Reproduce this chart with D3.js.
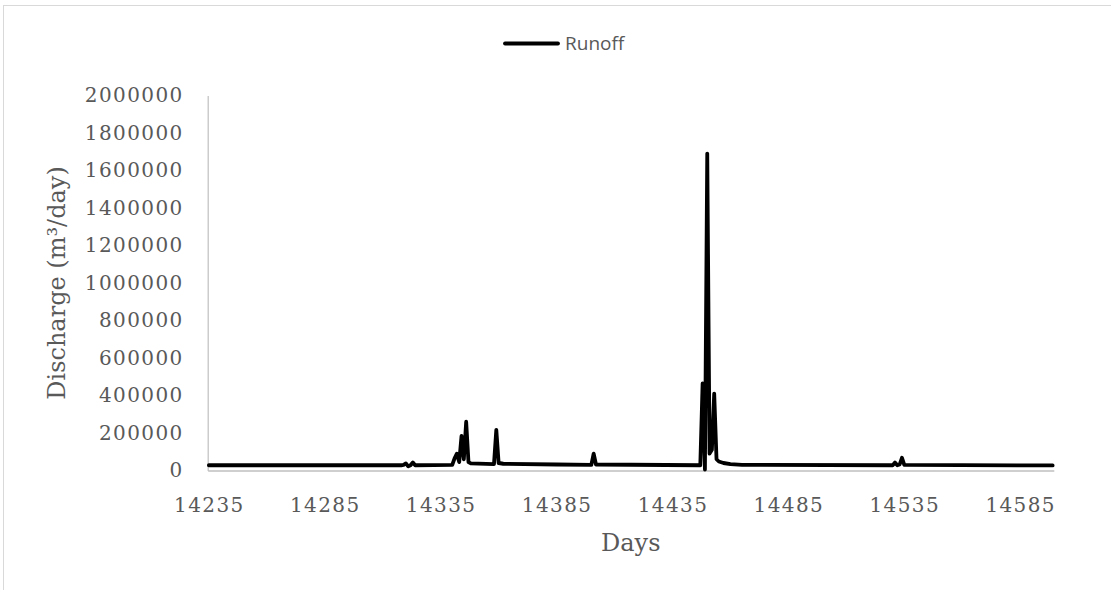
<!DOCTYPE html>
<html>
<head>
<meta charset="utf-8">
<script src="https://cdn.jsdelivr.net/npm/d3@7"></script>
<style>
    body { margin: 0; background: #fff; }
    .tick text { font-family: "DejaVu Serif", serif; font-size: 20px; fill: #595959; letter-spacing: 1.4px; }
</style>
</head>
<body>
<script>
// key points (days between points sit on the straight line)
var days = [14235, 14318, 14319, 14320, 14321, 14322, 14323, 14324, 14340, 14341, 14342, 14343,
    14344, 14345, 14346, 14347, 14348, 14358, 14359, 14360, 14362, 14385, 14400, 14401, 14402,
    14447, 14448, 14449, 14450, 14451, 14452, 14453, 14454, 14455, 14457, 14460, 14465, 14530,
    14531, 14532, 14533, 14534, 14535, 14599];
var runoff = [28000, 28000, 30000, 38000, 22000, 28000, 43000, 28000, 30000, 65000, 90000, 45000,
    184000, 60000, 260000, 45000, 38000, 34000, 216000, 40000, 36000, 32000, 30000, 90000, 32000,
    28000, 464000, 5000, 1690000, 90000, 110000, 410000, 60000, 48000, 40000, 34000, 30000, 28000,
    42000, 28000, 32000, 68000, 30000, 27000];
var xTicks = [14235, 14285, 14335, 14385, 14435, 14485, 14535, 14585];
var yTicks = [0, 200000, 400000, 600000, 800000, 1000000, 1200000, 1400000, 1600000, 1800000, 2000000];
var seriesName = "Runoff";

var width = 1111,
    height = 590;

var svg = d3.select("body")
    .append("svg")
    .attr("width", width)
    .attr("height", height);

// chart frame
svg.append("rect")
    .attr("x", 3.5)
    .attr("y", 5.5)
    .attr("width", 1120)
    .attr("height", 600)
    .style("fill", "none")
    .style("stroke", "#d9d9d9")
    .style("stroke-width", 1);

var x = d3.scaleLinear()
    .domain([14234.5, 14599.5])
    .range([207.7, 1053.8]);

var y = d3.scaleLinear()
    .domain([0, 2000000])
    .range([470.5, 95.5]);

var xAxis = svg.append("g")
    .attr("transform", "translate(0," + y(0) + ")")
    .call(d3.axisBottom(x).tickValues(xTicks).tickSize(0).tickFormat(d3.format("d")));
xAxis.select(".domain").style("stroke", "#bfbfbf").style("stroke-width", 1.5);
xAxis.selectAll(".tick text").attr("y", 34).attr("dy", "0.35em");

var yAxis = svg.append("g")
    .attr("transform", "translate(" + x.range()[0] + ",0)")
    .call(d3.axisLeft(y).tickValues(yTicks).tickSize(0).tickPadding(24).tickFormat(d3.format("d")));
yAxis.select(".domain").style("stroke", "#bfbfbf").style("stroke-width", 1.2);

var points = days.map(function (d, i) { return [d, runoff[i]]; });

var line = d3.line()
    .x(function (d) { return x(d[0]); })
    .y(function (d) { return y(d[1]); });

svg.append("path")
    .datum(points)
    .attr("d", line)
    .style("fill", "none")
    .style("stroke", "#000")
    .style("stroke-width", 3.8)
    .style("stroke-linejoin", "round")
    .style("stroke-linecap", "round");

// axis titles
svg.append("text")
    .attr("x", (x.range()[0] + x.range()[1]) / 2)
    .attr("y", 551)
    .attr("text-anchor", "middle")
    .style("font-family", "DejaVu Serif, serif")
    .style("font-size", "24px")
    .style("fill", "#595959")
    .text("Days");

svg.append("text")
    .attr("transform", "translate(65," + (y.range()[0] + y.range()[1]) / 2 + ") rotate(-90)")
    .attr("text-anchor", "middle")
    .style("font-family", "DejaVu Serif, serif")
    .style("font-size", "24px")
    .style("fill", "#595959")
    .text("Discharge (m³/day)");

// legend
var legend = svg.append("g");
legend.append("line")
    .attr("x1", 505).attr("x2", 558)
    .attr("y1", 43.5).attr("y2", 43.5)
    .style("stroke", "#000")
    .style("stroke-width", 3.8)
    .style("stroke-linecap", "round");
legend.append("text")
    .attr("x", 565)
    .attr("y", 50)
    .style("font-family", "Open Sans, sans-serif")
    .style("font-size", "19px")
    .style("fill", "#595959")
    .text(seriesName);
</script>
</body>
</html>
